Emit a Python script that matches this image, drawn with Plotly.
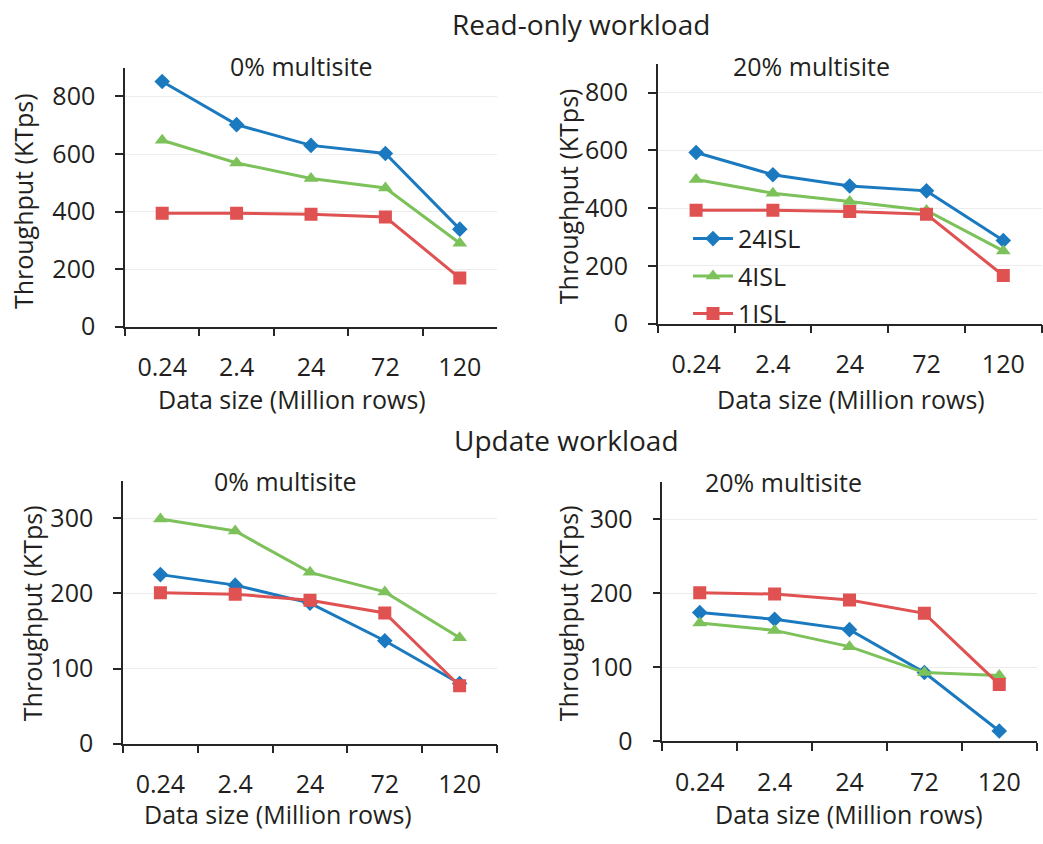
import plotly.graph_objects as go

# Data sizes (million rows) on the x axis
sizes = ["0.24", "2.4", "24", "72", "120"]
series_names = ["24ISL", "4ISL", "1ISL"]

# Throughput (KTps), read-only workload
ro_0_24isl = [852, 702, 630, 602, 339]
ro_0_4isl = [648, 569, 515, 482, 290]
ro_0_1isl = [394, 394, 391, 381, 169]

ro_20_24isl = [593, 516, 477, 460, 288]
ro_20_4isl = [499, 452, 423, 392, 252]
ro_20_1isl = [393, 393, 389, 379, 167]

# Throughput (KTps), update workload
up_0_24isl = [225, 211, 187, 137, 80]
up_0_4isl = [299, 283, 228, 202, 141]
up_0_1isl = [201, 199, 191, 174, 77]

up_20_24isl = [174, 165, 151, 93, 14]
up_20_4isl = [160, 150, 128, 93, 89]
up_20_1isl = [201, 199, 191, 173, 77]

colors = {"24ISL": "#1b7abf", "4ISL": "#7cc15a", "1ISL": "#e05151"}
symbols = {"24ISL": "diamond", "4ISL": "triangle-up", "1ISL": "square"}
msize = {"24ISL": 12, "4ISL": 13, "1ISL": 13}

W, H = 1043, 844
FONT = "Open Sans"
FS = 25
TXT = "#231f20"
AX = "#262626"


def px_x(v):
    return v / W


def px_y(v):
    return 1 - v / H


# panel: (x0, x1, ytop, ybottom) in pixels, y range, dtick, subtitle, data
panels = [
    dict(box=(125, 497, 69, 333), yr=900, dt=200, sub="0% multisite", subx=301, suby=67,
         data=[ro_0_24isl, ro_0_4isl, ro_0_1isl], xt=(292, 407), yt=(23, 205)),
    dict(box=(657.7, 1041.7, 65, 330), yr=900, dt=200, sub="20% multisite", subx=811, suby=67,
         data=[ro_20_24isl, ro_20_4isl, ro_20_1isl], xt=(851, 407), yt=(568, 200)),
    dict(box=(123, 497, 490, 758), yr=350, dt=100, sub="0% multisite", subx=285, suby=490,
         data=[up_0_24isl, up_0_4isl, up_0_1isl], xt=(278, 830), yt=(32, 625)),
    dict(box=(662.3, 1036.7, 491.7, 755.7), yr=350, dt=100, sub="20% multisite", subx=783, suby=491,
         data=[up_20_24isl, up_20_4isl, up_20_1isl], xt=(849, 830), yt=(568, 625)),
]

fig = go.Figure()
annotations = []
layout_axes = {}

for i, p in enumerate(panels, start=1):
    x0, x1, yt_, yb = p["box"]
    xa = "x" if i == 1 else f"x{i}"
    ya = "y" if i == 1 else f"y{i}"
    for name, vals in zip(series_names, p["data"]):
        fig.add_trace(go.Scatter(
            x=sizes, y=vals, name=name, mode="lines+markers",
            line=dict(color=colors[name], width=3),
            marker=dict(symbol=symbols[name], size=msize[name], color=colors[name]),
            xaxis=xa, yaxis=ya,
            legendgroup=name,
            showlegend=(i == 2),
        ))
    layout_axes["xaxis" if i == 1 else f"xaxis{i}"] = dict(
        domain=[px_x(x0), px_x(x1)], anchor=ya,
        type="category", categoryorder="array", categoryarray=sizes,
        range=[-0.5, 4.5], tickson="boundaries", ticks="outside", ticklen=8,
        tickwidth=1.5, tickcolor=AX, showline=True, linecolor=AX, linewidth=1.5,
        showgrid=False, zeroline=False, ticklabelstandoff=18,
        tickfont=dict(family=FONT, size=FS, color=TXT),
    )
    layout_axes["yaxis" if i == 1 else f"yaxis{i}"] = dict(
        domain=[px_y(yb), px_y(yt_)], anchor=xa,
        range=[0, p["yr"]], dtick=p["dt"], tick0=0, ticks="outside", ticklen=8,
        tickwidth=1.5, tickcolor=AX, showline=True, linecolor=AX, linewidth=1.5,
        showgrid=True, gridcolor="#ececec", gridwidth=1, zeroline=False,
        ticklabelstandoff=15,
        tickfont=dict(family=FONT, size=FS, color=TXT),
    )
    annotations.append(dict(text=p["sub"], x=px_x(p["subx"]), y=px_y(p["suby"]),
                            xref="paper", yref="paper", showarrow=False,
                            xanchor="center", yanchor="middle",
                            font=dict(family=FONT, size=FS, color=TXT)))
    annotations.append(dict(text="Data size (Million rows)", x=px_x(p["xt"][0]), y=px_y(p["xt"][1]),
                            xref="paper", yref="paper", showarrow=False,
                            xanchor="center", yanchor="middle",
                            font=dict(family=FONT, size=FS, color=TXT)))
    annotations.append(dict(text="Throughput (KTps)", x=px_x(p["yt"][0]), y=px_y(p["yt"][1]),
                            xref="paper", yref="paper", showarrow=False, textangle=-90,
                            xanchor="center", yanchor="middle",
                            font=dict(family=FONT, size=FS, color=TXT)))

annotations.append(dict(text="Read-only workload", x=px_x(581), y=px_y(24),
                        xref="paper", yref="paper", showarrow=False,
                        xanchor="center", yanchor="middle",
                        font=dict(family=FONT, size=28, color=TXT)))
annotations.append(dict(text="Update workload", x=px_x(566), y=px_y(448),
                        xref="paper", yref="paper", showarrow=False,
                        xanchor="center", yanchor="middle",
                        font=dict(family=FONT, size=28, color=TXT)))

fig.update_layout(
    width=W, height=H,
    margin=dict(l=0, r=0, t=0, b=0),
    paper_bgcolor="white", plot_bgcolor="white",
    showlegend=True,
    legend=dict(x=px_x(688), y=px_y(220), xanchor="left", yanchor="top",
                bgcolor="rgba(0,0,0,0)", tracegroupgap=2, itemwidth=40,
                font=dict(family=FONT, size=FS, color=TXT)),
    annotations=annotations,
    **layout_axes,
)

fig.write_html("out.html")
